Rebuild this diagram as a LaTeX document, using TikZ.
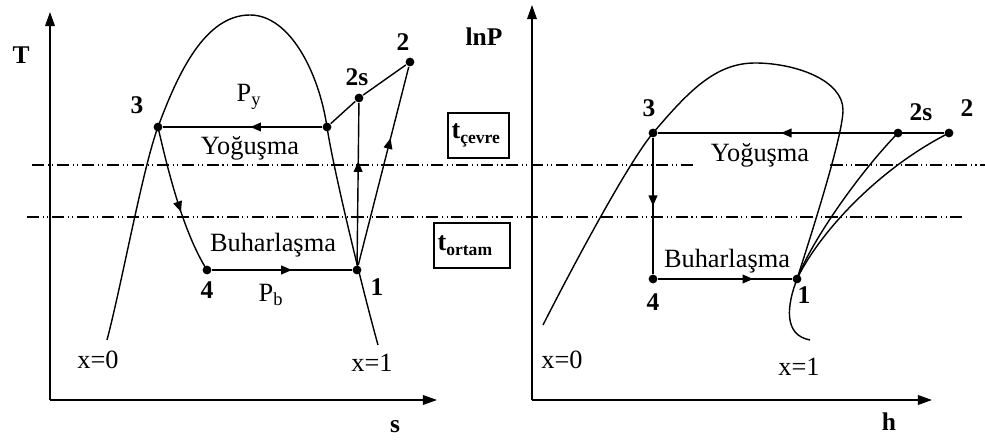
\documentclass[tikz,border=0pt]{standalone}
\usepackage{fontspec}
\setmainfont{Liberation Serif}
\usetikzlibrary{arrows.meta,positioning,decorations.markings}

\begin{document}
\begin{tikzpicture}[
    x=0.02cm, y=-0.02cm,
    line width=0.8pt,
    every node/.style={font=\fontsize{15}{17}\selectfont},
    lbl/.style={font=\fontsize{14.5}{16}\selectfont\bfseries},
    dot/.style={circle, fill, inner sep=0pt, minimum size=5pt},
    tbox/.style={rectangle, draw, line width=0.7pt, inner xsep=2pt, align=left, minimum height=0.9cm, font=\fontsize{15}{17}\selectfont\bfseries},
    axis/.style={-{Triangle[length=8pt,width=5.5pt]}},
    iso/.style={line width=0.8pt, dash pattern=on 7pt off 2pt on 0.6pt off 2pt on 0.6pt off 2pt},
    midarr/.style={postaction={decorate}, decoration={markings, mark=at position #1 with {\arrow{Triangle[length=6pt,width=5pt]}}}},
]
    \useasboundingbox (0,0) rectangle (985,442);

    \coordinate (oL) at (50,400);
    \coordinate (tL) at (50,12);
    \coordinate (sL) at (437,400);
    \coordinate (oR) at (532,400);
    \coordinate (tR) at (532,5);
    \coordinate (sR) at (932,400);
    \draw[axis] (oL) -- (tL);
    \draw[axis] (oL) -- (sL);
    \draw[axis] (oR) -- (tR);
    \draw[axis] (oR) -- (sR);

    \coordinate (cevA) at (32,165);
    \coordinate (cevB) at (985,165);
    \coordinate (ortA) at (27,217);
    \coordinate (ortB) at (962,217);
    \draw[iso] (cevA) -- (cevB);
    \draw[iso] (ortA) -- (ortB);
    \node[fill=white, inner xsep=0.36cm, inner ysep=1pt] (yogR) at (760,155) {Yoğuşma};

    \node[tbox, text width=1.22cm-4pt] (tcevre) at (478.5,135.5) {t\raisebox{-0.45ex}{\fontsize{10}{11}\selectfont çevre}};
    \node[tbox, text width=1.52cm-4pt] (tortam) at (472,245.5) {t\raisebox{-0.45ex}{\fontsize{10}{11}\selectfont ortam}};

    \node[dot] (l3) at (158,127) {};
    \node[dot] (lv) at (327,127) {};
    \node[dot] (l2s) at (359,98) {};
    \node[dot] (l2) at (410,62) {};
    \node[dot] (l1) at (357,270) {};
    \node[dot] (l4) at (207,270) {};
    \coordinate (lx0) at (107,340);
    \coordinate (lx1) at (378,345);
    \coordinate (ltop) at (250,15);

    \draw (lx0) .. controls (122,283) and (143,167) .. (l3.center)
        .. controls (178,73) and (205,15) .. (ltop)
        .. controls (290,15) and (319,73) .. (lv.center)
        .. controls (333,167) and (360,280) .. (lx1);

    \draw[midarr=0.45] (lv) -- (l3);
    \draw[midarr=0.58] (l3.center) .. controls (170,180) and (185,235) .. (l4.center);
    \draw[midarr=0.57] (l4) -- (l1);
    \draw[midarr=0.64] (l1) -- (l2s);
    \draw[midarr=0.64] (l1) -- (l2);
    \draw (lv) -- (l2s) -- (l2);

    \node[lbl] (tT) at (21,55) {T};
    \node[lbl] (tS) at (395,427) {s};
    \node[lbl] (n3L) at (137,105) {3};
    \node[lbl] (n2sL) at (357,77) {2s};
    \node[lbl] (n2L) at (403,42) {2};
    \node[lbl] (n1L) at (377,287) {1};
    \node[lbl] (n4L) at (207,290) {4};
    \node (py) at (249,97) {P\textsubscript{y}};
    \node (pb) at (271,295) {P\textsubscript{b}};
    \node (yogL) at (250,148) {Yoğuşma};
    \node (buhL) at (273,245) {Buharlaşma};
    \node (x0L) at (98,360) {x=0};
    \node (x1L) at (372,363) {x=1};

    \node[dot] (r3) at (653,133) {};
    \node[dot] (r2s) at (898,133) {};
    \node[dot] (r2) at (949,133) {};
    \node[dot] (r1) at (797,279) {};
    \node[dot] (r4) at (653,279) {};
    \coordinate (rx0) at (543,325);
    \coordinate (rx1) at (810,340);
    \coordinate (rtop) at (755,63);
    \coordinate (rend) at (843,110);

    \draw (rx0) .. controls (573,266) and (628,163) .. (r3.center)
        .. controls (688,92) and (715,63) .. (rtop)
        .. controls (795,63) and (843,80) .. (rend)
        .. controls (843,135) and (813,229) .. (r1.center)
        .. controls (787,305) and (783,335) .. (rx1);

    \draw[midarr=0.57] (r2) -- (r3);
    \draw[midarr=0.5] (r3) -- (r4);
    \draw[midarr=0.71] (r4) -- (r1);
    \draw (r1.center) .. controls (812,240) and (860,172) .. (r2s.center);
    \draw (r1.center) .. controls (818,235) and (876,170) .. (r2.center);

    \node[lbl] (tP) at (484,37) {lnP};
    \node[lbl] (tH) at (889,422) {h};
    \node[lbl] (n3R) at (649,108) {3};
    \node[lbl] (n2sR) at (921,112) {2s};
    \node[lbl] (n2R) at (967,108) {2};
    \node[lbl] (n4R) at (653,302) {4};
    \node[lbl] (n1R) at (804,295) {1};
    \node (buhR) at (727,261) {Buharlaşma};
    \node (x0R) at (562,360) {x=0};
    \node (x1R) at (799,367) {x=1};
\end{tikzpicture}
\end{document}
